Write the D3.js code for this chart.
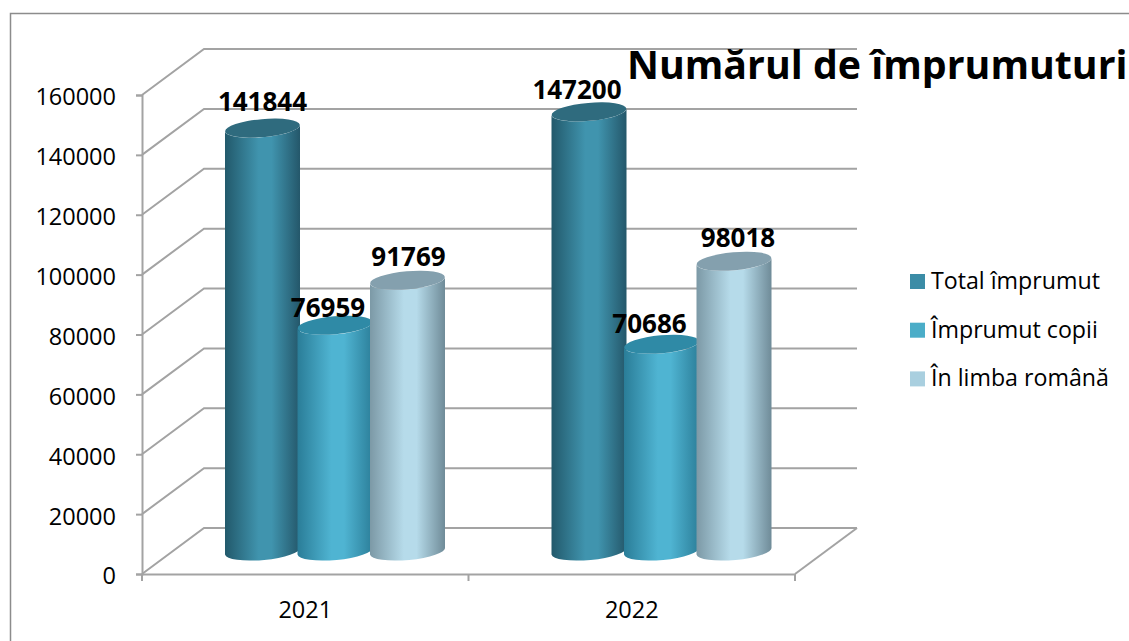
<!DOCTYPE html>
<html>
<head>
<meta charset="utf-8">
<script src="https://cdn.jsdelivr.net/npm/d3@7"></script>
<style>
    html, body { margin: 0; padding: 0; background: #fff; overflow: hidden; }
    text { font-family: "Open Sans", "Noto Sans", sans-serif; fill: #000; }
</style>
</head>
<body>
<div id="chart"></div>
<script>
var years = ["2021", "2022"];
var seriesNames = ["Total împrumut", "Împrumut copii", "În limba română"];
var totalImprumut = [141844, 147200];
var imprumutCopii = [76959, 70686];
var limbaRomana = [91769, 98018];
var yTicks = [0, 20000, 40000, 60000, 80000, 100000, 120000, 140000, 160000];

function init() {
    var w = 1129;
    var h = 641;
    var left = 142, right = 795, bottom = 574, top = 95;
    var depthX = 62, depthY = 46;
    var allSeries = [totalImprumut, imprumutCopii, limbaRomana];

    // shading of each series: edge left, middle, edge right, top cap, legend
    var shades = [
        { l: "#22596b", m: "#4094ae", r: "#24576a", cap: "#2f6b7e", key: "#3b8ca6" },
        { l: "#2a7d98", m: "#4fb4d2", r: "#2c7f9a", cap: "#2f8aa6", key: "#4badc8" },
        { l: "#7c99a6", m: "#b6dbea", r: "#6f8b98", cap: "#84a0ae", key: "#a9cfdf" }
    ];

    var svg = d3.select("#chart")
        .append("svg")
        .attr("width", w)
        .attr("height", h)
        .style("display", "block");

    var xScale = d3.scaleBand()
        .domain(years)
        .range([left, right]);

    var yScale = d3.scaleLinear()
        .domain([0, 160000])
        .range([bottom, top]);

    // cylinders stand in the middle of the floor, so they get their own scale
    var barScale = d3.scaleLinear()
        .domain([0, 160000])
        .range([559, 73]);
    var barBase = 551;

    var seriesScale = d3.scaleBand()
        .domain(d3.range(seriesNames.length))
        .range([0, 217.5]);

    var defs = svg.append("defs");
    shades.forEach(function (s, i) {
        var grad = defs.append("linearGradient")
            .attr("id", "cyl" + i);
        grad.append("stop").attr("offset", "0%").attr("stop-color", s.l);
        grad.append("stop").attr("offset", "45%").attr("stop-color", s.m);
        grad.append("stop").attr("offset", "62%").attr("stop-color", s.m);
        grad.append("stop").attr("offset", "100%").attr("stop-color", s.r);
    });

    // page frame
    svg.append("path")
        .attr("d", "M10.5,641V13.5H1129")
        .attr("fill", "none")
        .attr("stroke", "#8c8c8c")
        .attr("stroke-width", 1.5);

    // walls: diagonal + back line for each tick
    var grid = svg.append("g")
        .attr("fill", "none")
        .attr("stroke", "#a3a3a3")
        .attr("stroke-width", 2);

    grid.selectAll("path")
        .data(yTicks)
        .enter()
        .append("path")
        .attr("d", function (d) {
            var y = yScale(d);
            return "M" + left + "," + y + "L" + (left + depthX) + "," + (y - depthY) + "H" + (right + depthX);
        });

    // floor right side
    grid.append("path")
        .attr("d", "M" + right + "," + bottom + "L" + (right + depthX) + "," + (bottom - depthY));

    var yAxis = svg.append("g")
        .attr("transform", "translate(" + left + ",0)")
        .call(d3.axisLeft(yScale)
            .tickValues(yTicks)
            .tickFormat(d3.format("d"))
            .tickSize(6)
            .tickPadding(20));

    var xAxis = svg.append("g")
        .attr("transform", "translate(0," + bottom + ")")
        .call(d3.axisBottom(xScale)
            .tickSize(0)
            .tickPadding(27));

    // category separators
    xAxis.selectAll(".sep")
        .data([left, (left + right) / 2, right])
        .enter()
        .append("line")
        .attr("x1", function (d) { return d; })
        .attr("x2", function (d) { return d; })
        .attr("y1", 0)
        .attr("y2", 7)
        .attr("stroke", "#a3a3a3")
        .attr("stroke-width", 2);

    [yAxis, xAxis].forEach(function (axis) {
        axis.selectAll(".domain, .tick line")
            .attr("stroke", "#a3a3a3")
            .attr("stroke-width", 2);
        axis.selectAll("text")
            .style("font-size", "23.5px")
            .attr("fill", "#000");
    });
    yAxis.selectAll("text").attr("dy", "0.42em");

    // cylinders
    var rx = 37.5, tilt = 3.5, ry = 9;

    function cylinder(cx, yTop, yBase) {
        return "M" + (cx - rx) + "," + (yTop + tilt) +
            "L" + (cx - rx) + "," + (yBase + tilt) +
            "A" + rx + "," + ry + ",-5,0,0," + (cx + rx) + "," + (yBase - tilt) +
            "L" + (cx + rx) + "," + (yTop - tilt) +
            "A" + rx + "," + ry + ",-5,0,1," + (cx - rx) + "," + (yTop + tilt) + "Z";
    }

    var groupStart = function (year) {
        return xScale(year) + xScale.bandwidth() / 2 - 79;
    };

    // data labels were hand placed in the original chart: [dx, dy]
    var labelShift = [
        [[0, 0], [-7, 9], [1, 3]],
        [[-12, 4], [-12, 6], [4, 3]]
    ];

    allSeries.forEach(function (values, s) {
        var g = svg.append("g");
        g.selectAll("path.side")
            .data(values)
            .enter()
            .append("path")
            .attr("class", "side")
            .attr("fill", "url(#cyl" + s + ")")
            .attr("d", function (d, i) {
                var cx = groupStart(years[i]) + seriesScale(s) + seriesScale.bandwidth() / 2;
                return cylinder(cx, barScale(d), barBase);
            });
        g.selectAll("ellipse")
            .data(values)
            .enter()
            .append("ellipse")
            .attr("rx", rx)
            .attr("ry", ry)
            .attr("fill", shades[s].cap)
            .attr("transform", function (d, i) {
                var cx = groupStart(years[i]) + seriesScale(s) + seriesScale.bandwidth() / 2;
                return "translate(" + cx + "," + barScale(d) + ") rotate(-5)";
            });
    });

    // labels go on top of every cylinder
    allSeries.forEach(function (values, s) {
        svg.append("g").selectAll("text")
            .data(values)
            .enter()
            .append("text")
            .attr("class", "bar-label")
            .text(function (d) { return d; })
            .attr("x", function (d, i) {
                return groupStart(years[i]) + seriesScale(s) + seriesScale.bandwidth() / 2 + labelShift[i][s][0];
            })
            .attr("y", function (d, i) { return barScale(d) - 17 + labelShift[i][s][1]; })
            .attr("text-anchor", "middle")
            .style("font-size", "26px")
            .style("font-weight", "700");
    });

    // legend
    var legend = svg.selectAll(".legend")
        .data(seriesNames)
        .enter()
        .append("g")
        .attr("class", "legend")
        .attr("transform", function (d, i) {
            return "translate(910," + (274 + i * 48.7) + ")";
        });

    legend.append("rect")
        .attr("width", 15)
        .attr("height", 15)
        .attr("fill", function (d, i) { return shades[i].key; });

    legend.append("text")
        .attr("x", 21)
        .attr("y", 15)
        .style("font-size", "23.2px")
        .text(function (d) { return d; });

    svg.append("text")
        .attr("x", 627)
        .attr("y", 79)
        .style("font-size", "39.3px")
        .style("font-weight", "700")
        .text("Numărul de împrumuturi");
}

window.onload = init;
</script>
</body>
</html>
